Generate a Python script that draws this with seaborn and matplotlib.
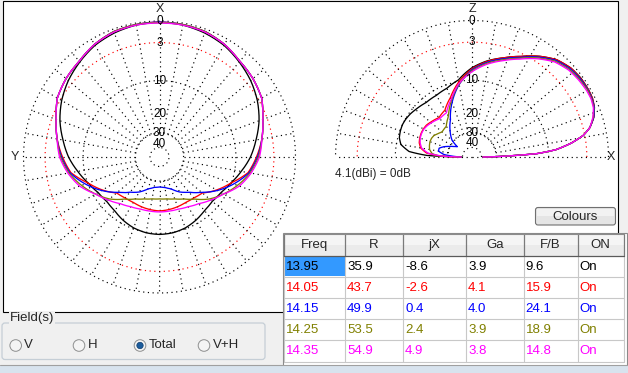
import numpy as np
import pandas as pd
import matplotlib
matplotlib.use('Agg')
import matplotlib.pyplot as plt
from matplotlib.patches import Rectangle, FancyBboxPatch, Circle
import seaborn as sns

sns.set_style('white')
plt.rcParams['font.family'] = ['Liberation Sans', 'DejaVu Sans']

# --- data -----------------------------------------------------------------
freq_labels = ['13.95', '14.05', '14.15', '14.25', '14.35']
line_colors = ['#000000', '#FF0000', '#0000FF', '#808000', '#FF00FF']

# azimuth pattern (dB rel. 4.1 dBi), 0..180 deg off boresight, symmetric
az_angles = np.arange(0, 181, 10)
az_1395 = [-0.19, -0.26, -0.52, -0.92, -1.60, -2.32, -3.22, -4.33, -5.69, -6.98,
           -8.58, -10.11, -11.29, -11.79, -11.54, -10.81, -10.22, -9.88, -9.77]
az_1405 = [-0.13, -0.19, -0.32, -0.78, -1.47, -1.89, -2.47, -3.69, -4.66, -5.87,
           -7.17, -10.11, -12.56, -15.41, -16.21, -16.54, -16.37, -16.21, -16.05]
az_1415 = [-0.13, -0.19, -0.32, -0.78, -1.47, -1.89, -2.47, -3.69, -4.66, -5.69,
           -6.98, -9.44, -12.30, -15.73, -18.83, -21.04, -24.08, -25.69, -26.26]
az_1425 = [-0.19, -0.19, -0.32, -0.78, -1.47, -1.89, -2.47, -3.69, -4.66, -5.52,
           -6.79, -8.58, -10.57, -12.74, -15.73, -17.91, -19.33, -20.17, -20.41]
az_1435 = [-0.26, -0.26, -0.39, -0.78, -1.47, -1.89, -2.47, -3.69, -4.66, -5.34,
           -6.60, -8.16, -10.57, -12.30, -13.93, -14.96, -15.57, -15.73, -15.73]

# elevation pattern (dB rel. 4.1 dBi), 0 = forward horizon, 180 = back horizon
el_angles = [0, 1, 2, 3, 5, 8, 11, 14, 18, 22, 26, 30, 36, 42, 49, 56, 64, 72, 81, 90,
             100, 110, 120, 130, 140, 145, 150, 155, 160, 165, 170, 175, 178, 180]
el_1395 = [-43.69, -29.42, -20.41, -12.83, -8.37, -5.34, -3.22, -2.03, -1.12, -0.58,
           -0.32, -0.26, -0.26, -0.45, -0.99, -2.03, -3.45, -4.66, -5.87, -7.37,
           -9.66, -10.81, -11.29, -11.29, -10.69, -10.34, -10.11, -10.00, -10.11, -10.34,
           -11.05, -13.37, -19.21, -43.69]
el_1405 = [-43.69, -29.42, -20.41, -12.83, -8.37, -5.34, -3.22, -2.03, -1.12, -0.58,
           -0.32, -0.26, -0.31, -0.45, -0.99, -2.03, -3.45, -4.66, -5.96, -7.56,
           -10.11, -13.37, -16.05, -16.94, -16.05, -15.57, -15.41, -15.41, -15.57, -15.89,
           -16.70, -19.02, -25.14, -43.69]
el_1415 = [-43.69, -29.42, -20.41, -12.83, -8.37, -5.34, -3.22, -2.03, -1.12, -0.58,
           -0.39, -0.32, -0.39, -0.58, -1.12, -2.17, -3.61, -4.83, -6.14, -7.76,
           -10.69, -14.80, -20.00, -24.08, -28.74, -35.13, -32.45, -29.42, -26.26, -24.08,
           -24.08, -27.46, -35.13, -43.69]
el_1425 = [-43.69, -29.42, -20.41, -12.83, -8.37, -5.34, -3.22, -2.03, -1.19, -0.65,
           -0.45, -0.39, -0.52, -0.72, -1.26, -2.32, -3.77, -5.00, -6.32, -7.96,
           -10.57, -14.22, -18.46, -21.26, -21.70, -20.83, -19.80, -19.41, -19.33, -19.60,
           -20.00, -21.26, -24.08, -43.69]
el_1435 = [-43.69, -29.42, -20.41, -12.83, -8.37, -5.34, -3.22, -2.03, -1.26, -0.72,
           -0.52, -0.52, -0.65, -0.85, -1.40, -2.47, -3.92, -5.17, -6.51, -8.16,
           -10.45, -13.93, -17.04, -17.38, -16.37, -15.89, -15.57, -15.57, -15.73, -16.21,
           -17.04, -19.60, -25.69, -43.69]

# table
tbl_freq = [13.95, 14.05, 14.15, 14.25, 14.35]
tbl_r = [35.9, 43.7, 49.9, 53.5, 54.9]
tbl_jx = [-8.6, -2.6, 0.4, 2.4, 4.9]
tbl_ga = [3.9, 4.1, 4.0, 3.9, 3.8]
tbl_fb = [9.6, 15.9, 24.1, 18.9, 14.8]
tbl_on = ['On', 'On', 'On', 'On', 'On']
tbl_head = ['Freq', 'R', 'jX', 'Ga', 'F/B', 'ON']

db_labels = ['0', '3', '10', '20', '30', '40']
db_label_levels = [0, -3, -10, -20, -30, -40]

# --- long form frames -----------------------------------------------------
az_parts = []
for f, vals in zip(freq_labels, [az_1395, az_1405, az_1415, az_1425, az_1435]):
    vals = np.asarray(vals)
    th = np.r_[az_angles, 360 - az_angles[::-1]]
    az_parts.append(pd.DataFrame({'theta': np.deg2rad(th),
                                  'gain': np.r_[vals, vals[::-1]], 'freq': f}))
az_df = pd.concat(az_parts, ignore_index=True)

el_parts = []
for f, vals in zip(freq_labels, [el_1395, el_1405, el_1415, el_1425, el_1435]):
    el_parts.append(pd.DataFrame({'theta': np.deg2rad(el_angles), 'gain': vals, 'freq': f}))
el_df = pd.concat(el_parts, ignore_index=True)

palette = dict(zip(freq_labels, line_colors))

# --- figure ---------------------------------------------------------------
W, H = 628, 373
fig = plt.figure(figsize=(W / 100, H / 100), dpi=100, facecolor='#F0F0F0')


def px_box(x, y, w, h):
    return [x / W, 1 - (y + h) / H, w / W, h / H]


bg = fig.add_axes([0, 0, 1, 1], zorder=0)
bg.set_xlim(0, W)
bg.set_ylim(H, 0)
bg.set_axis_off()

# plot panel
bg.add_patch(Rectangle((2.5, 0.5), 615, 311.5, fc='white', ec='black', lw=0.8))


# radial scale: MMANA style log-ish rings
def to_r(db):
    return 10 ** (np.asarray(db, dtype=float) / 40.0)


def from_r(r):
    return 40.0 * np.log10(np.clip(np.asarray(r, dtype=float), 1e-12, None))


dot = (0, (1, 3))


def setup_polar(ax, zero, full):
    ax.set_theta_zero_location(zero)
    ax.set_theta_direction(1)
    ax.set_rscale('function', functions=(to_r, from_r))
    ax.set_axis_off()
    span = 2 * np.pi if full else np.pi
    t = np.linspace(0, span, 721)
    for lvl, c in zip([0, -3, -10, -30, -46], ['black', 'red', 'black', 'black', 'black']):
        ax.plot(t, np.full_like(t, lvl), color=c, ls=dot, lw=0.85, clip_on=False)
    step = range(0, 360, 10) if full else range(10, 180, 10)
    for a in step:
        ax.plot([np.deg2rad(a)] * 2, [-30, 0], color='black', ls=dot, lw=0.85, clip_on=False)
    if not full:
        for a in (0, np.pi):
            ax.plot([a, a], [-120, 0], color='black', ls=dot, lw=0.85, clip_on=False)


ax_az = fig.add_axes(px_box(159.5 - 136, 157 - 136, 272, 272), projection='polar', zorder=1)
ax_el = fig.add_axes(px_box(472 - 136.5, 157 - 136.5, 273, 273), projection='polar', zorder=1)
setup_polar(ax_az, 'N', True)
setup_polar(ax_el, 'E', False)

for ax, df in ((ax_az, az_df), (ax_el, el_df)):
    n0 = len(ax.lines)
    sns.lineplot(data=df, x='theta', y='gain', hue='freq', hue_order=freq_labels,
                 palette=palette, sort=False, estimator=None, legend=False, lw=0.95,
                 ax=ax, clip_on=False)
    # draw segments as arcs in polar space instead of straight chords
    for ln in ax.lines[n0:]:
        ln.get_path()._interpolation_steps = 12

for ax, th in ((ax_az, 0.0), (ax_el, np.pi / 2)):
    ax.set_ylim(-120, 0)
    for lvl, s in zip(db_label_levels, db_labels):
        ax.text(th, lvl, s, ha='center', va='center', fontsize=8.5, color='black')

bg.text(159.5, 9.5, 'X', ha='center', va='center', fontsize=9)
bg.text(15, 157, 'Y', ha='center', va='center', fontsize=9)
bg.text(472, 9.5, 'Z', ha='center', va='center', fontsize=9)
bg.text(611, 157, 'X', ha='center', va='center', fontsize=9)
bg.text(335, 174, '%.1f(dBi) = 0dB' % max(tbl_ga), ha='left', va='center', fontsize=8.5)

# Colours button
bg.add_patch(FancyBboxPatch((535.5, 207.5), 80, 17.5, boxstyle='round,pad=0,rounding_size=2.5',
                            fc='#E5E5E5', ec='#707070', lw=0.8))
bg.add_patch(Rectangle((537, 209), 77, 7, fc='#F2F2F2', ec='none'))
bg.text(575.5, 216.5, 'Colours', ha='center', va='center', fontsize=9.5)

# table
col_edges = [283.5, 345, 403, 466, 523.5, 577.5, 623.5]
head_top, head_bot, row_h = 234, 255.5, 21.2
bg.add_patch(Rectangle((282.5, 233), 344, 133, fc='white', ec='#8A8A8A', lw=0.8))
bg.add_patch(Rectangle((col_edges[0], head_top), col_edges[-1] - col_edges[0],
                       head_bot - head_top, fc='#EBEBEB', ec='none'))
bg.add_patch(Rectangle((col_edges[0], head_top), col_edges[-1] - col_edges[0],
                       (head_bot - head_top) / 2, fc='#F5F5F5', ec='none'))
bg.add_patch(Rectangle((col_edges[0] + 1, head_bot + 1), col_edges[1] - col_edges[0] - 1.5,
                       row_h - 1.5, fc='#3399FF', ec='none'))
grid_bot = head_bot + 5 * row_h
for k in range(1, 6):
    y = head_bot + k * row_h
    bg.plot([col_edges[0], col_edges[-1]], [y, y], color='#C8C8C8', lw=0.8)
for x in col_edges:
    bg.plot([x, x], [head_bot, grid_bot], color='#C8C8C8', lw=0.8)
    bg.plot([x, x], [head_top, head_bot], color='#7A7A7A', lw=0.9)
bg.plot([col_edges[0], col_edges[-1]], [head_bot, head_bot], color='#5A5A5A', lw=0.9)
bg.plot([col_edges[0], col_edges[-1]], [head_top, head_top], color='#8C8C8C', lw=0.8)

for j, name in enumerate(tbl_head):
    bg.text((col_edges[j] + col_edges[j + 1]) / 2, (head_top + head_bot) / 2 + 0.5, name,
            ha='center', va='center', fontsize=9.5)

rows = zip(tbl_freq, tbl_r, tbl_jx, tbl_ga, tbl_fb, tbl_on)
for i, (f, r, jx, ga, fb, on) in enumerate(rows):
    cells = ['%.2f' % f, '%.1f' % r, '%.1f' % jx, '%.1f' % ga, '%.1f' % fb, on]
    yc = head_bot + i * row_h + row_h / 2 + 0.5
    for j, s in enumerate(cells):
        bg.text(col_edges[j] + 2, yc, s, ha='left', va='center', fontsize=9.5,
                color=line_colors[i])

# Field(s) group
bg.add_patch(FancyBboxPatch((2, 323), 263, 36.5, boxstyle='round,pad=0,rounding_size=3',
                            fc='none', ec='#C5CED6', lw=0.9))
bg.text(10, 317.5, 'Field(s)', ha='left', va='center', fontsize=9.5,
        bbox=dict(fc='#F0F0F0', ec='none', pad=0.5))
radio_x = [15.7, 79, 140, 204]
radio_txt = ['V', 'H', 'Total', 'V+H']
for x, s in zip(radio_x, radio_txt):
    bg.add_patch(Circle((x, 345.5), 5.8, fc='#F4F4F4', ec='#8E8F8F', lw=0.7))
    bg.text(x + 8.5, 345.5, s, ha='left', va='center', fontsize=9.5)
bg.add_patch(Circle((radio_x[2], 345.5), 3.2, fc='#1C5C9C', ec='#0E3E6E', lw=0.5))

# window bottom edge
bg.plot([0, W], [364.5, 364.5], color='#A0A0A0', lw=0.8)
bg.add_patch(Rectangle((0, 366), W, 7, fc='#D8E3EE', ec='none'))

fig.savefig('out.png', dpi=100, facecolor=fig.get_facecolor())
